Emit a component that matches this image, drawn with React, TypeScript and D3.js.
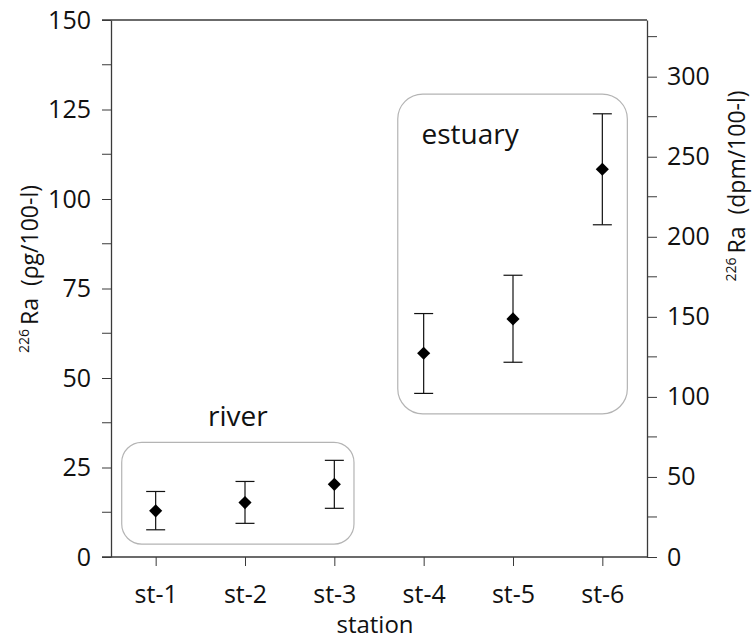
import React, { useEffect, useRef } from 'react';
import * as d3 from 'd3';

// station data (pg/100-l)
const stations = ['st-1', 'st-2', 'st-3', 'st-4', 'st-5', 'st-6'];
const values = [12.9, 15.2, 20.3, 56.9, 66.5, 108.3];
const lower = [7.6, 9.4, 13.6, 45.7, 54.4, 92.8];
const upper = [18.3, 21.1, 27.0, 68.0, 78.7, 123.8];

const leftTicks = [0, 25, 50, 75, 100, 125, 150];
const rightTicks = [0, 50, 100, 150, 200, 250, 300];
const pgToDpm = 2.236;

// grouping boxes, in station index / value units
const groups = [
  { name: 'river', x0: -0.38, x1: 2.22, y0: 3.6, y1: 32, labelX: 0.92, labelY: 36.5, r: 20 },
  { name: 'estuary', x0: 2.71, x1: 5.28, y0: 40, y1: 129.3, labelX: 3.52, labelY: 115.5, r: 25 },
];

const App = () => {
  const svgRef = useRef<SVGSVGElement>(null);

  useEffect(() => {
    const svg = d3.select(svgRef.current);
    svg.selectAll('*').remove();

    const width = 755;
    const height = 640;
    const margin = { top: 20, right: 108, bottom: 83, left: 111 };
    const font = '"Open Sans", sans-serif';
    const axisColor = '#3a3a3a';
    const textColor = '#111';

    const x = d3.scalePoint<string>()
      .domain(stations)
      .range([margin.left, width - margin.right])
      .padding(0.5);
    const xi = d3.scaleLinear()
      .domain([0, stations.length - 1])
      .range([x(stations[0])!, x(stations[stations.length - 1])!]);
    const y = d3.scaleLinear().domain([0, 150]).range([height - margin.bottom, margin.top]);
    const y2 = d3.scaleLinear().domain([0, 150 * pgToDpm]).range([height - margin.bottom, margin.top]);

    const x0 = margin.left;
    const x1 = width - margin.right;
    const yb = height - margin.bottom;

    // group boxes
    groups.forEach(g => {
      svg.append('rect')
        .attr('x', xi(g.x0))
        .attr('y', y(g.y1))
        .attr('width', xi(g.x1) - xi(g.x0))
        .attr('height', y(g.y0) - y(g.y1))
        .attr('rx', g.r)
        .attr('fill', 'none')
        .attr('stroke', '#b4b4b4')
        .attr('stroke-width', 1.2);
      svg.append('text')
        .attr('x', xi(g.labelX))
        .attr('y', y(g.labelY))
        .attr('text-anchor', 'middle')
        .attr('font-family', font)
        .attr('font-size', 28)
        .attr('fill', textColor)
        .text(g.name);
    });

    // frame: top and bottom lines, left and right axes
    svg.append('line').attr('x1', x0 - 9).attr('x2', x1).attr('y1', margin.top).attr('y2', margin.top)
      .attr('stroke', axisColor).attr('stroke-width', 1.3);
    svg.append('line').attr('x1', x0 - 9).attr('x2', x1).attr('y1', yb).attr('y2', yb)
      .attr('stroke', axisColor).attr('stroke-width', 1.3);

    const leftAxis = d3.axisLeft(y)
      .tickValues(leftTicks)
      .tickSize(9)
      .tickPadding(11)
      .tickSizeOuter(0);
    const gl = svg.append('g').attr('transform', `translate(${x0},0)`).call(leftAxis);
    gl.selectAll('line').attr('stroke', axisColor);
    gl.select('.domain').attr('stroke', axisColor).attr('stroke-width', 1.3);
    gl.selectAll('text').attr('font-family', font).attr('font-size', 25).attr('fill', textColor);
    d3.range(12.5, 150, 25).forEach(v => {
      gl.append('line').attr('x1', -9).attr('x2', 0).attr('y1', y(v)).attr('y2', y(v)).attr('stroke', axisColor);
    });

    const rightAxis = d3.axisRight(y2)
      .tickValues(rightTicks)
      .tickSize(10)
      .tickPadding(10)
      .tickSizeOuter(0);
    const gr = svg.append('g').attr('transform', `translate(${x1},0)`).call(rightAxis);
    gr.selectAll('line').attr('stroke', axisColor);
    gr.select('.domain').attr('stroke', axisColor).attr('stroke-width', 1.3);
    gr.selectAll('text').attr('font-family', font).attr('font-size', 25).attr('fill', textColor);
    d3.range(25, 150 * pgToDpm, 50).forEach(v => {
      gr.append('line').attr('x1', 0).attr('x2', 10).attr('y1', y2(v)).attr('y2', y2(v)).attr('stroke', axisColor);
    });

    const bottomAxis = d3.axisBottom(x).tickSize(9).tickPadding(19).tickSizeOuter(0);
    const gb = svg.append('g').attr('transform', `translate(0,${yb})`).call(bottomAxis);
    gb.select('.domain').remove();
    gb.selectAll('line').attr('stroke', axisColor);
    gb.selectAll('text').attr('font-family', font).attr('font-size', 25).attr('fill', textColor);

    // axis titles
    svg.append('text')
      .attr('x', (x0 + x1) / 2 - 4)
      .attr('y', 633)
      .attr('text-anchor', 'middle')
      .attr('font-family', font)
      .attr('font-size', 24)
      .attr('fill', textColor)
      .text('station');

    const yTitle = (tx: number, ty: number, unit: string) => {
      const t = svg.append('text')
        .attr('transform', `translate(${tx},${ty}) rotate(-90)`)
        .attr('text-anchor', 'middle')
        .attr('font-family', font)
        .attr('font-size', 23)
        .attr('fill', textColor);
      t.append('tspan').attr('font-size', 14).attr('dy', -9).text('226');
      t.append('tspan').attr('dy', 9).attr('dx', 4).text('Ra');
      t.append('tspan').attr('dx', 12).text(`(${unit})`);
    };
    yTitle(38, 269, 'ρg/100-l');
    yTitle(745, 186, 'dpm/100-l');

    // error bars
    const cap = 9.5;
    stations.forEach((s, i) => {
      const cx = x(s)!;
      svg.append('line').attr('x1', cx).attr('x2', cx).attr('y1', y(lower[i])).attr('y2', y(upper[i]))
        .attr('stroke', '#111').attr('stroke-width', 1.2);
      [lower[i], upper[i]].forEach(v => {
        svg.append('line').attr('x1', cx - cap).attr('x2', cx + cap).attr('y1', y(v)).attr('y2', y(v))
          .attr('stroke', '#111').attr('stroke-width', 1.2);
      });
    });

    // diamonds
    svg.selectAll('.pt')
      .data(values)
      .enter()
      .append('path')
      .attr('class', 'pt')
      .attr('d', d3.symbol().type(d3.symbolDiamond2).size(110))
      .attr('transform', (d, i) => `translate(${x(stations[i])},${y(d)})`)
      .attr('fill', '#000');
  }, []);

  return (
    <svg
      ref={svgRef}
      width={755}
      height={640}
      style={{ position: 'absolute', left: 0, top: 0, background: '#fff' }}
    />
  );
};

export default App;
